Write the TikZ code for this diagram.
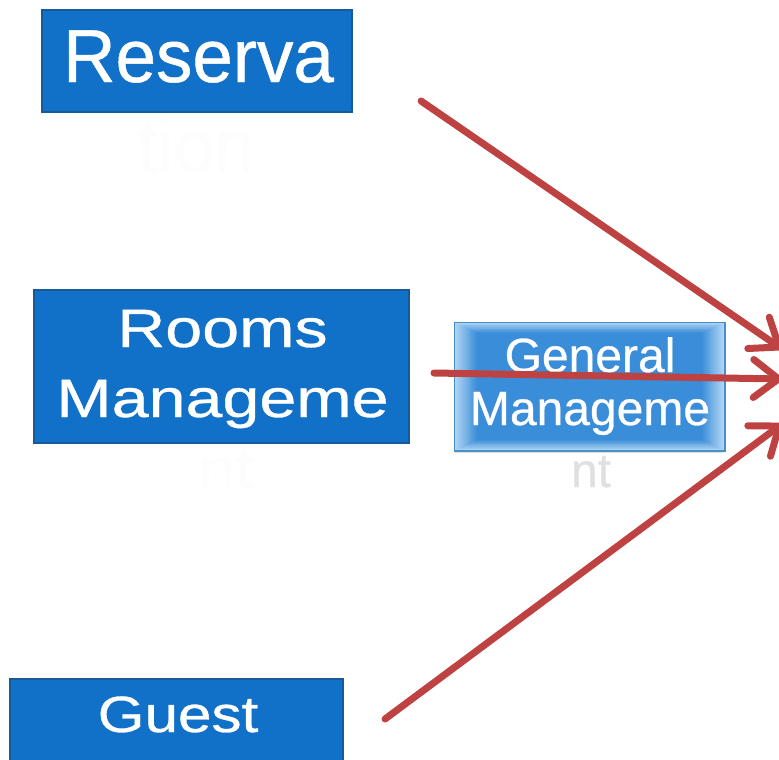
\documentclass[tikz,border=0pt]{standalone}
\usepackage{fontspec}
\setmainfont{Liberation Sans}
\newfontfamily\heavyfont{Liberation Sans}[FakeBold=0.6]
\usetikzlibrary{arrows.meta,shadows}
\definecolor{boxblue}{HTML}{1170C8}
\definecolor{boxedge}{HTML}{175A98}
\definecolor{genedge}{HTML}{4A90C8}
\definecolor{genmid}{HTML}{3A8DD8}
\definecolor{genout}{HTML}{B2D7F4}
\definecolor{arrowred}{HTML}{BE4242}
\begin{document}
\begin{tikzpicture}[x=1pt,y=-1pt,
  bluebox/.style={draw=boxedge, line width=2pt, fill=boxblue, inner sep=0pt},
  genbox/.style={draw=genedge, line width=1.5pt, inner sep=0pt, fill=genout,
     drop shadow={shadow xshift=0pt, shadow yshift=-3pt, opacity=0.25}},
  boxtext/.style={anchor=base, text=white, inner sep=0pt},
  ghosttext/.style={anchor=base, text=black!0.8, inner sep=0pt},
  flow/.style={draw=arrowred, line width=7pt, line cap=round,
     -{Straight Barb[length=25pt, width=38pt, line cap=round, line join=round]}}]
\useasboundingbox (0,0) rectangle (779,760);
\clip (0,0) rectangle (779,760);

% boxes
\node[bluebox, minimum width=310pt, minimum height=102pt] (res) at (197,61) {};
\node[bluebox, minimum width=375pt, minimum height=153pt] (rooms) at (221.5,366.5) {};
\node[genbox, minimum width=269pt, minimum height=127pt] (gen) at (589.5,386.5) {};
\foreach \i in {1,...,24}{
  \pgfmathsetmacro{\mix}{100-\i*4.1667}
  \fill[color=genout!\mix!genmid]
    ([shift={(\i*0.95,\i*0.45)}]gen.north west) rectangle ([shift={(-\i*0.95,-\i*0.45)}]gen.south east);
}
\draw[genedge, line width=1.5pt] (gen.north west) rectangle (gen.south east);
\node[bluebox, minimum width=333pt, minimum height=130pt] (guest) at (176.5,744) {};

% texts
\node[boxtext, font=\heavyfont\fontsize{75}{90}\selectfont] (resT) at (198.5,82) {\scalebox{0.97}[1]{Reserva}};
\node[ghosttext, font=\heavyfont\fontsize{75}{90}\selectfont] (resT2) at (196,172) {\scalebox{0.97}[1]{tion}};
\node[boxtext, font=\heavyfont\fontsize{54}{70}\selectfont] (roomsT1) at (222.5,347) {\scalebox{1.23}[1]{Rooms}};
\node[boxtext, font=\heavyfont\fontsize{54}{70}\selectfont] (roomsT2) at (222.5,417) {\scalebox{1.23}[1]{Manageme}};
\node[ghosttext, font=\heavyfont\fontsize{54}{70}\selectfont] (roomsT3) at (226,487) {\scalebox{1.23}[1]{nt}};
\node[boxtext, font=\heavyfont\fontsize{48}{53}\selectfont] (genT1) at (590,372) {General};
\node[boxtext, font=\heavyfont\fontsize{48}{53}\selectfont] (genT2) at (590,425) {Manageme};
\node[anchor=base, inner sep=0pt, text=black!12, font=\heavyfont\fontsize{48}{53}\selectfont] (genT3) at (591,487) {nt};
\node[boxtext, font=\heavyfont\fontsize{51}{60}\selectfont] (guestT) at (178,732) {\scalebox{1.18}[1]{Guest}};

% arrows
\coordinate (a1s) at (421,101);
\coordinate (a1e) at (782,349);
\coordinate (a2s) at (434,373);
\coordinate (a2e) at (782,379);
\coordinate (a3s) at (385,719);
\coordinate (a3e) at (782,424);
\draw[flow] (a1s) -- (a1e);
\draw[flow] (a2s) -- (a2e);
\draw[flow] (a3s) -- (a3e);
\end{tikzpicture}
\end{document}
